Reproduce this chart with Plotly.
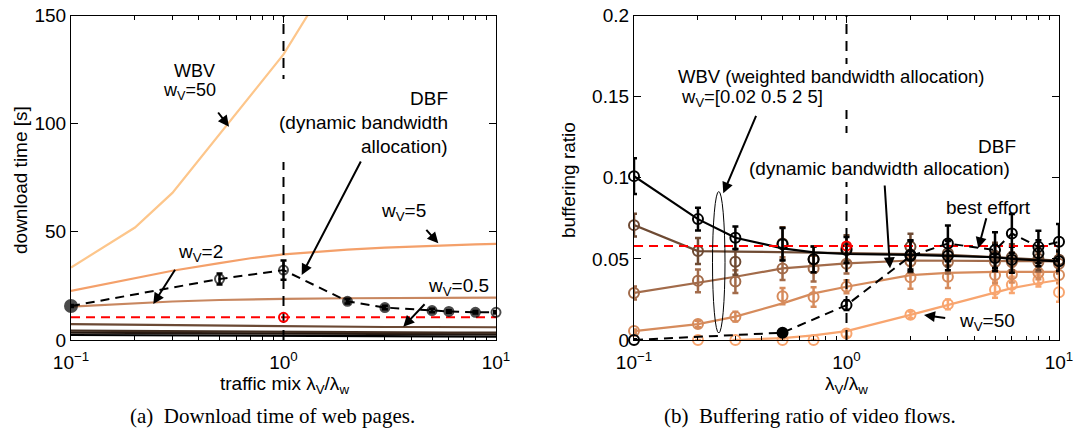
import plotly.graph_objects as go

W, H = 1075, 434

# ---------------- data: panel (a) download time ----------------
x_a = [0.1, 0.2, 0.3, 0.5, 0.7, 1, 2, 3, 5, 6, 8, 10]
dl_w50 = [33.5, 52, 68, 95, 113, 132, 180, 205, 240, 252, 270, 285]
dl_w5 = [22.7, 28.5, 32, 35.5, 37.8, 39.6, 41.8, 42.7, 43.6, 43.9, 44.2, 44.4]
dl_w2 = [15.4, 17.0, 17.8, 18.5, 18.8, 19.0, 19.3, 19.4, 19.5, 19.5, 19.6, 19.6]
dl_w05 = [7.3, 7.0, 6.8, 6.6, 6.5, 6.2, 6.1, 6.0, 6.0, 5.9, 5.9, 5.9]
dl_w02 = [4.3, 4.1, 4.0, 3.9, 3.8, 3.7, 3.6, 3.5, 3.5, 3.4, 3.4, 3.4]
dl_w01 = [3.4, 3.3, 3.2, 3.1, 3.0, 2.9, 2.8, 2.7, 2.7, 2.6, 2.6, 2.6]
dl_w002 = [2.3, 2.2, 2.1, 2.0, 1.9, 1.9, 1.8, 1.7, 1.7, 1.6, 1.6, 1.6]

x_dbf_a = [0.1, 0.5, 1, 2, 3, 5, 6, 8, 10]
dl_dbf = [15.7, 28.2, 32.3, 17.9, 15.0, 13.6, 13.2, 12.8, 12.8]
dl_dbf_err = [0.5, 2.5, 4.5, 1.0, 0.8, 0.8, 0.6, 0.6, 0.6]
dl_best_effort = 10.5

# ---------------- data: panel (b) buffering ratio ----------------
x_b = [0.1, 0.2, 0.3, 0.5, 0.7, 1, 2, 3, 5, 6, 8, 10]
br_w002_fit = [0.101, 0.0745, 0.063, 0.0565, 0.054, 0.053, 0.0525, 0.052, 0.051, 0.050, 0.049, 0.0485]
br_w002_sim = [0.101, 0.0745, 0.063, 0.059, 0.0497, 0.0555, 0.0525, 0.052, 0.0505, 0.0495, 0.0535, 0.0485]
br_w002_err = [0.011, 0.007, 0.007, 0.010, 0.008, 0.008, 0.009, 0.009, 0.008, 0.008, 0.008, 0.006]

br_w05_fit = [0.0708, 0.0548, 0.0545, 0.0542, 0.054, 0.0538, 0.053, 0.0525, 0.051, 0.0505, 0.0495, 0.049]
br_w05_sim = [0.0708, 0.0548, 0.0482, 0.0595, 0.0497, 0.0565, 0.0575, 0.0535, 0.052, 0.051, 0.050, 0.0495]
br_w05_err = [0.007, 0.008, 0.008, 0.010, 0.008, 0.008, 0.008, 0.008, 0.008, 0.008, 0.007, 0.006]

br_w2_fit = [0.0291, 0.0353, 0.039, 0.0441, 0.0455, 0.0472, 0.049, 0.049, 0.0488, 0.0487, 0.0486, 0.0485]
br_w2_sim = [0.029, 0.0365, 0.036, 0.044, 0.044, 0.047, 0.0485, 0.048, 0.048, 0.048, 0.048, 0.047]
br_w2_err = [0.004, 0.007, 0.007, 0.007, 0.008, 0.006, 0.007, 0.007, 0.006, 0.006, 0.006, 0.006]

br_w5_fit = [0.0055, 0.0098, 0.0144, 0.0226, 0.0287, 0.0328, 0.040, 0.0414, 0.042, 0.042, 0.042, 0.042]
br_w5_sim = [0.0055, 0.0098, 0.0144, 0.027, 0.0265, 0.0328, 0.0386, 0.039, 0.040, 0.0405, 0.0415, 0.040]
br_w5_err = [0.001, 0.002, 0.003, 0.005, 0.006, 0.004, 0.007, 0.007, 0.005, 0.005, 0.004, 0.005]

br_w50_fit = [None, None, 0.0, 0.0012, 0.0028, 0.0055, 0.0155, 0.0215, 0.029, 0.032, 0.035, 0.037]
br_w50_sim = [None, 0.0, 0.0, 0.0, 0.0, 0.004, 0.0155, 0.022, 0.031, 0.034, 0.037, 0.0295]
br_w50_err = [0, 0, 0, 0, 0, 0.002, 0.002, 0.003, 0.005, 0.005, 0.004, 0.006]

x_dbf_b = [0.1, 0.5, 1, 2, 3, 5, 6, 8, 10]
br_dbf = [0.0, 0.0045, 0.0215, 0.0517, 0.0595, 0.0554, 0.0656, 0.0574, 0.0605]
br_dbf_err = [0.0005, 0.0015, 0.003, 0.0095, 0.011, 0.011, 0.012, 0.010, 0.011]
br_best_effort = 0.058

x_range = [0.1, 10]
mix_equal = 1
ylim_a = [0, 150]
ylim_b = [0, 0.2]

# ---------------- colours ----------------
C_W50 = "#FDC68B"
C_W5 = "#F4A06A"
C_W2 = "#C88760"
C_W05 = "#6B4934"
C_W02 = "#3F2B1E"
C_W01 = "#231710"
C_W002 = "#000000"

CB_W50 = "#F8A56F"
CB_W5 = "#D68B5C"
CB_W2 = "#A26B4A"
CB_W05 = "#6E4A33"
CB_W002 = "#000000"

FONT = "Liberation Sans, Arial, sans-serif"
SERIF = "Liberation Serif, Times New Roman, serif"

fig = go.Figure()

# ---- panel (a) ----
for ys, c in [(dl_w002, C_W002), (dl_w01, C_W01), (dl_w02, C_W02), (dl_w05, C_W05),
              (dl_w2, C_W2), (dl_w5, C_W5), (dl_w50, C_W50)]:
    fig.add_trace(go.Scatter(x=x_a, y=ys, mode="lines", line=dict(color=c, width=2.2),
                             xaxis="x", yaxis="y", showlegend=False, cliponaxis=True))

fig.add_trace(go.Scatter(x=x_range, y=[dl_best_effort] * 2, mode="lines",
                         line=dict(color="#FF0000", width=2, dash="9px,6px"),
                         xaxis="x", yaxis="y", showlegend=False))
fig.add_trace(go.Scatter(x=[mix_equal, mix_equal], y=ylim_a, mode="lines",
                         line=dict(color="black", width=2, dash="10px,7px"),
                         xaxis="x", yaxis="y", showlegend=False))
fig.add_trace(go.Scatter(x=[mix_equal], y=[dl_best_effort], mode="markers",
                         marker=dict(symbol="circle-open", color="#FF0000", size=9, line=dict(width=2)),
                         xaxis="x", yaxis="y", showlegend=False, cliponaxis=False))
dbf_sym = ["circle", "circle-open", "circle-open", "circle", "circle", "circle", "circle", "circle", "circle-open"]
fig.add_trace(go.Scatter(x=x_dbf_a, y=dl_dbf, mode="lines+markers",
                         line=dict(color="black", width=2, dash="9px,6px"),
                         marker=dict(symbol=dbf_sym, color="black", size=[12, 9, 9, 9, 9, 9, 9, 9, 9],
                                     line=dict(width=2, color="black")),
                         error_y=dict(type="data", array=dl_dbf_err, color="black", thickness=2.5, width=3),
                         xaxis="x", yaxis="y", showlegend=False, cliponaxis=False))

# ---- panel (b) ----
series_b = [
    (br_w50_fit, br_w50_sim, br_w50_err, CB_W50),
    (br_w5_fit, br_w5_sim, br_w5_err, CB_W5),
    (br_w2_fit, br_w2_sim, br_w2_err, CB_W2),
    (br_w05_fit, br_w05_sim, br_w05_err, CB_W05),
    (br_w002_fit, br_w002_sim, br_w002_err, CB_W002),
]
for fit, sim, err, c in series_b:
    fig.add_trace(go.Scatter(x=x_b, y=fit, mode="lines", line=dict(color=c, width=2.2),
                             xaxis="x2", yaxis="y2", showlegend=False))
    fig.add_trace(go.Scatter(x=x_b, y=sim, mode="markers",
                             marker=dict(symbol="circle-open", color=c, size=10, line=dict(width=2)),
                             error_y=dict(type="data", array=err, color=c, thickness=2.5, width=3),
                             xaxis="x2", yaxis="y2", showlegend=False, cliponaxis=False))

fig.add_trace(go.Scatter(x=x_range, y=[br_best_effort] * 2, mode="lines",
                         line=dict(color="#FF0000", width=2, dash="9px,6px"),
                         xaxis="x2", yaxis="y2", showlegend=False))
fig.add_trace(go.Scatter(x=[mix_equal], y=[br_best_effort], mode="markers",
                         marker=dict(symbol="circle-open", color="#FF0000", size=9, line=dict(width=2)),
                         xaxis="x2", yaxis="y2", showlegend=False))
fig.add_trace(go.Scatter(x=[mix_equal, mix_equal], y=ylim_b, mode="lines",
                         line=dict(color="black", width=2, dash="10px,7px"),
                         xaxis="x2", yaxis="y2", showlegend=False))
fig.add_trace(go.Scatter(x=x_dbf_b, y=br_dbf, mode="lines+markers",
                         line=dict(color="black", width=2, dash="9px,6px"),
                         marker=dict(symbol=["circle-open", "circle"] + ["circle-open"] * 7, color="black",
                                     size=10, line=dict(width=2, color="black")),
                         error_y=dict(type="data", array=br_dbf_err, color="black", thickness=2.5, width=3),
                         xaxis="x2", yaxis="y2", showlegend=False, cliponaxis=False))


def px(x):
    return x / W


def py(y):
    return 1 - y / H


minor_vals = [m * 10 ** e for e in (-1, 0) for m in range(2, 10)]
xcommon = dict(type="log", range=[-1, 1], tickvals=[0.1, 1, 10],
               ticktext=["10<sup>\u22121</sup>", "10<sup>0</sup>", "10<sup>1</sup>"],
               ticks="inside", ticklen=7, tickwidth=1, tickcolor="black",
               showline=True, linecolor="black", linewidth=1.2, mirror="allticks",
               showgrid=False, zeroline=False, automargin=False, ticklabelstandoff=5,
               minor=dict(tickvals=minor_vals, ticks="inside", ticklen=4, tickcolor="black", showgrid=False),
               tickfont=dict(family=FONT, size=19, color="black"))
ycommon = dict(ticks="inside", ticklen=7, tickwidth=1, tickcolor="black",
               showline=True, linecolor="black", linewidth=1.2, mirror="allticks",
               showgrid=False, zeroline=False, automargin=False,
               tickfont=dict(family=FONT, size=19, color="black"))

ydom = [py(340), py(15.5)]
fig.update_layout(
    width=W, height=H, margin=dict(l=0, r=0, t=0, b=0, pad=0, autoexpand=False),
    paper_bgcolor="white", plot_bgcolor="white", showlegend=False,
    xaxis=dict(domain=[px(71), px(496)], anchor="y", **xcommon),
    yaxis=dict(domain=ydom, anchor="x", range=ylim_a, tickvals=[0, 50, 100, 150], **ycommon),
    xaxis2=dict(domain=[px(634), px(1059)], anchor="y2", **xcommon),
    yaxis2=dict(domain=ydom, anchor="x2", range=ylim_b, tickvals=[0, 0.05, 0.1, 0.15, 0.2],
                ticktext=["0", "0.05", "0.1", "0.15", "0.2"], **ycommon),
)

# white boxes behind multi-line labels (they hide the dashed vertical line)
shapes = [
    dict(type="rect", xref="paper", yref="paper", x0=px(276), x1=px(452), y0=py(162), y1=py(79),
         fillcolor="white", line=dict(width=0), layer="above"),
    dict(type="rect", xref="paper", yref="paper", x0=px(675), x1=px(1004), y0=py(110), y1=py(64),
         fillcolor="white", line=dict(width=0), layer="above"),
    dict(type="rect", xref="paper", yref="paper", x0=px(754), x1=px(1020), y0=py(182), y1=py(133),
         fillcolor="white", line=dict(width=0), layer="above"),
    dict(type="circle", xref="paper", yref="paper", x0=px(712.5), x1=px(725), y0=py(333), y1=py(191.5),
         line=dict(color="black", width=1), layer="above"),
]
fig.update_layout(shapes=shapes)

ann = []


def text(t, x, y, xanchor="center", size=19, family=FONT, angle=0):
    ann.append(dict(text=t, x=px(x), y=py(y), xref="paper", yref="paper", xanchor=xanchor,
                    yanchor="middle", showarrow=False, textangle=angle,
                    font=dict(family=family, size=size, color="black")))


def arrow(tx, ty, hx, hy):
    ann.append(dict(text="", x=px(hx), y=py(hy), xref="paper", yref="paper", showarrow=True,
                    ax=tx - hx, ay=ty - hy, axref="pixel", ayref="pixel", arrowhead=2,
                    arrowsize=1.1, arrowwidth=2, arrowcolor="black", standoff=0, startstandoff=0))


# panel (a) labels
text("WBV", 194.5, 71, size=18)
text("w<sub>V</sub>=50", 218, 92, xanchor="right", size=18)
text("DBF", 450, 99, xanchor="right")
text("(dynamic bandwidth", 450, 123, xanchor="right")
text("allocation)", 450, 146, xanchor="right")
text("w<sub>V</sub>=5", 379, 212, xanchor="left")
text("w<sub>V</sub>=2", 176, 253, xanchor="left")
text("w<sub>V</sub>=0.5", 426, 287, xanchor="left")
arrow(217, 111, 229, 126.7)
arrow(361.6, 160, 301.7, 275)
arrow(425, 228.3, 438.3, 243.3)
arrow(176, 268.3, 153.3, 304)
arrow(426, 302.7, 403.3, 326.7)

text("download time [s]", 20, 180, angle=-90)
text("traffic mix \u03bb<sub>V</sub>/\u03bb<sub>w</sub>", 284, 385)
text("(a)  Download time of web pages.", 272, 416, size=21, family=SERIF)

# panel (b) labels
text("WBV (weighted bandwidth allocation)", 676, 76, xanchor="left", size=18.5)
text("w<sub>V</sub>=[0.02 0.5 2 5]", 679, 98, xanchor="left", size=18.5)
text("DBF", 1018, 146, xanchor="right")
text("(dynamic bandwidth allocation)", 1012, 168, xanchor="right")
text("best effort", 988, 207)
text("w<sub>V</sub>=50", 957, 322, xanchor="left")
arrow(756.7, 114.3, 723.3, 193.3)
arrow(884.6, 184, 890, 268.3)
arrow(986.7, 216.7, 978.3, 248.3)
arrow(946.7, 318.3, 924, 315)

text("buffering ratio", 568, 180, angle=-90)
text("\u03bb<sub>V</sub>/\u03bb<sub>w</sub>", 846, 385)
text("(b)  Buffering ratio of video flows.", 810, 416, size=21, family=SERIF)

fig.update_layout(annotations=ann)

fig.write_html("out.html")
